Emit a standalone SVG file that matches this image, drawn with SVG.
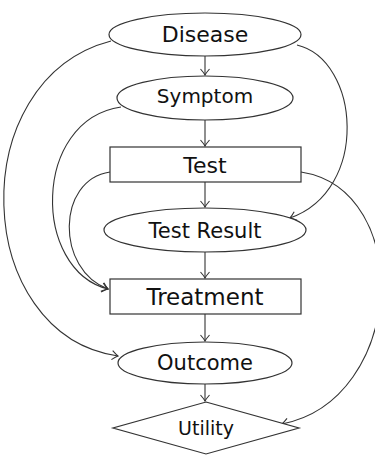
<svg xmlns="http://www.w3.org/2000/svg" width="375" height="455" viewBox="0 0 375 455">
<style>
.n{fill:#fff;stroke:#333;stroke-width:1.2}
.t{font-family:"DejaVu Sans",sans-serif;fill:#111;text-anchor:middle}
.e{fill:none;stroke:#333;stroke-width:1.1;marker-end:url(#a)}
</style>
<defs>
<marker id="a" markerUnits="userSpaceOnUse" markerWidth="12" markerHeight="12" viewBox="-7 -6 8 12" refX="0" refY="0" orient="auto">
<path d="M-6,-4.5 Q-2,-1 0,0 Q-2,1 -6,4.5" fill="none" stroke="#333" stroke-width="1.1"/>
</marker>
</defs>
<rect width="375" height="455" fill="#fff"/>
<g id="connectors">
<path class="e" d="M205,56 V75"/>
<path class="e" d="M205,120 V146"/>
<path class="e" d="M205,182 V207"/>
<path class="e" d="M205,252 V278"/>
<path class="e" d="M205,314 V341"/>
<path class="e" d="M205,384 V401"/>
<path class="e" d="M111,41 C-38,80 -28,335 118,356"/>
<path class="e" d="M297,45 C360,60 370,190 290,218"/>
<path class="e" d="M121,107 C32,120 32,270 108,289"/>
<path class="e" d="M110,172 C56,180 56,270 108,289"/>
<path class="e" d="M301,172 C415,190 405,400 282,424"/>
</g>
<g id="disease"><ellipse class="n" cx="205" cy="34.5" rx="96" ry="21.5"/><text class="t" x="205" y="42" font-size="22">Disease</text></g>
<g id="symptom"><ellipse class="n" cx="205" cy="98" rx="88" ry="22"/><text class="t" x="205" y="103" font-size="20">Symptom</text></g>
<g id="test"><rect class="n" x="110" y="147" width="191" height="35"/><text class="t" x="205" y="173" font-size="22">Test</text></g>
<g id="testresult"><ellipse class="n" cx="205" cy="230" rx="101" ry="22"/><text class="t" x="205" y="238" font-size="21">Test Result</text></g>
<g id="treatment"><rect class="n" x="110" y="279" width="191" height="35"/><text class="t" x="205" y="305" font-size="23">Treatment</text></g>
<g id="outcome"><ellipse class="n" cx="205" cy="363" rx="87" ry="21"/><text class="t" x="205" y="370" font-size="21">Outcome</text></g>
<g id="utility"><polygon class="n" points="206,402 299,428 206,454 113,428"/><text class="t" x="206" y="435" font-size="19">Utility</text></g>
</svg>
